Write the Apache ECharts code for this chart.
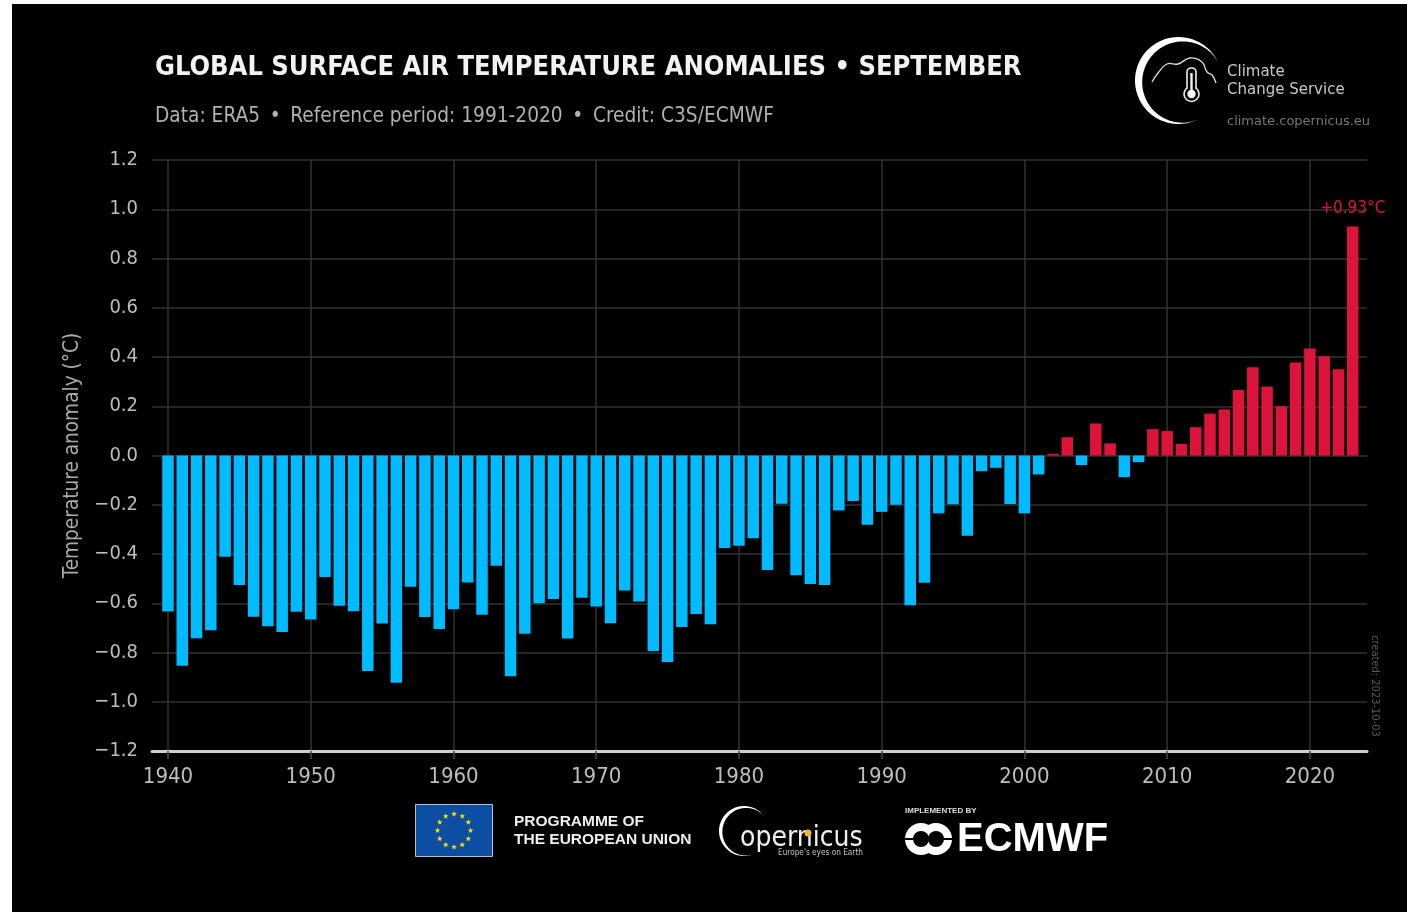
<!DOCTYPE html>
<html><head><meta charset="utf-8">
<style>html,body{margin:0;padding:0;background:#fff;width:1407px;height:912px;overflow:hidden}#c{width:1407px;height:912px}</style>
<script src="https://cdn.jsdelivr.net/npm/echarts@6/dist/echarts.min.js"></script>
</head><body><div id="c"></div>
<script>
const years = [];
for (let y = 1940; y <= 2023; y++) years.push(y);
const anomalies = [
 -0.633,-0.854,-0.742,-0.710,-0.411,-0.526,-0.655,-0.693,-0.717,-0.635,
 -0.666,-0.493,-0.610,-0.632,-0.875,-0.682,-0.923,-0.533,-0.656,-0.705,
 -0.624,-0.516,-0.647,-0.448,-0.896,-0.724,-0.600,-0.583,-0.743,-0.578,
 -0.613,-0.681,-0.548,-0.593,-0.794,-0.839,-0.696,-0.644,-0.685,-0.376,
 -0.367,-0.336,-0.465,-0.196,-0.486,-0.522,-0.526,-0.223,-0.185,-0.281,
 -0.229,-0.200,-0.608,-0.517,-0.235,-0.198,-0.326,-0.064,-0.050,-0.197,
 -0.235,-0.077, 0.007, 0.074,-0.039, 0.130, 0.049,-0.088,-0.027, 0.107,
  0.099, 0.047, 0.115, 0.170, 0.187, 0.266, 0.358, 0.280, 0.200, 0.378,
  0.435, 0.403, 0.350, 0.930];
const yearTicks = [1940,1950,1960,1970,1980,1990,2000,2010,2020];
const titleText = 'GLOBAL SURFACE AIR TEMPERATURE ANOMALIES • SEPTEMBER';
const subtitleText = 'Data: ERA5\u2009 • \u2009Reference period: 1991-2020\u2009 • \u2009Credit: C3S/ECMWF';
const yAxisName = 'Temperature anomaly (°C)';
const peakLabel = '+0.93°C';

const COND = '"DejaVu Sans Condensed","DejaVu Sans",sans-serif';
const DEJA = '"DejaVu Sans",sans-serif';
const LIB = '"Liberation Sans",sans-serif';
const BLUE = '#00bbff', RED = '#dc143c';

function star(cx, cy, r) {
  const pts = [];
  for (let i = 0; i < 10; i++) {
    const a = -Math.PI / 2 + i * Math.PI / 5, q = i % 2 ? r * 0.42 : r;
    pts.push([cx + q * Math.cos(a), cy + q * Math.sin(a)]);
  }
  return {type:'polygon', shape:{points:pts}, style:{fill:'#ffdd00'}};
}
const flagStars = [];
for (let i = 0; i < 12; i++) {
  const a = i * Math.PI / 6;
  flagStars.push(star(454 + 16.5 * Math.cos(a), 830.5 + 16.5 * Math.sin(a), 3));
}
// logo crescent: outer arc from tip a1 round the left to tip a2, inner edge swells to tmax
function crescent(cx, cy, r, a1, a2, tmax, fill) {
  const pts = [], n = 80;
  for (let i = 0; i <= n; i++) {
    const a = (a1 + (a2 - a1) * i / n) * Math.PI / 180;
    pts.push([cx + r * Math.cos(a), cy + r * Math.sin(a)]);
  }
  for (let i = n; i >= 0; i--) {
    const f = i / n, a = (a1 + (a2 - a1) * f) * Math.PI / 180, t = tmax * Math.pow(Math.sin(Math.PI * f), 1.3);
    pts.push([cx + (r - t) * Math.cos(a), cy + (r - t) * Math.sin(a)]);
  }
  return {type:'polygon', shape:{points:pts}, style:{fill}};
}
const txt = (x, y, text, font, size, fill, weight, extra) => ({
  type:'text', x, y, rotation:(extra&&extra.rotation)||0,
  style:{text, fill, fontFamily:font, fontSize:size, fontWeight:weight||'normal', verticalAlign:'middle', align:(extra&&extra.align)||'left'}
});
const circ = (cx, cy, r, fill, stroke, lw) => ({type:'circle', shape:{cx,cy,r}, style:{fill:fill||'none', stroke:stroke||'none', lineWidth:lw||0}});
const rectR = (x, y, width, height, fill) => ({type:'rect', shape:{x,y,width,height}, style:{fill}});

const decor = [
  // Climate Change Service logo
  crescent(1178.5, 80.5, 43.5, -24, -295, 7.5, '#fff'),
  {type:'polyline', shape:{smooth:0.45, points:[[1152,82],[1158,73],[1167,64],[1178,64],[1190,58],[1202,62],[1207,72],[1212,75],[1216,83]]},
   style:{fill:'none', stroke:'#ddd', lineWidth:1.3}},
  {type:'rect', shape:{x:1187, y:68, width:9, height:26, r:4}, style:{fill:'#000', stroke:'#eee', lineWidth:1.6}},
  circ(1191.5, 94, 7.5, '#000', '#eee', 1.6),
  rectR(1187.9, 84, 7.2, 6, '#000'),
  circ(1191.5, 94, 4.2, '#f4f4f4'),
  rectR(1190.3, 73, 2.4, 18, '#f4f4f4'),
  txt(1227, 72, 'Climate', DEJA, 15, '#c8c8c8'),
  txt(1227, 90, 'Change Service', DEJA, 15, '#c8c8c8'),
  txt(1227, 122, 'climate.copernicus.eu', DEJA, 13, '#777'),
  // created stamp
  txt(1375, 686, 'created: 2023-10-03', COND, 11, '#5a5a5a', 'normal', {rotation:-Math.PI/2, align:'center'}),
  // EU flag
  {type:'rect', shape:{x:415.5, y:804.5, width:77, height:52}, style:{fill:'#0b4ea2', stroke:'#b5c0cc', lineWidth:1}},
  ...flagStars,
  txt(514, 822, 'PROGRAMME OF', LIB, 15.5, '#eee', 'bold'),
  txt(514, 840, 'THE EUROPEAN UNION', LIB, 15.5, '#eee', 'bold'),
  // Copernicus
  crescent(744, 831, 25, -32, -288, 3.5, '#fff'),
  txt(740, 839, 'opernicus', COND, 28, '#eee'),
  circ(808, 833, 3.5, '#f5b335'),
  txt(778, 853, "Europe's eyes on Earth", COND, 8.2, '#c4c4c4'),
  // ECMWF
  txt(905, 811, 'IMPLEMENTED BY', LIB, 8, '#ddd', 'bold'),
  circ(921, 839, 16, '#fff'), circ(936, 839, 16, '#fff'),
  circ(921, 839, 8, '#000'), circ(936, 839, 8, '#000'),
  rectR(905, 838, 16, 2, '#000'), rectR(936, 838, 16, 2, '#000'),
  txt(957, 840, 'ECMWF', LIB, 40, '#fff', 'bold')
];

const chart = echarts.init(document.getElementById('c'), null, {renderer:'canvas'});
chart.setOption({
  animation:false,
  backgroundColor:'#fff',
  graphic:{elements:[
    {type:'rect', z:-10, shape:{x:12, y:4, width:1395, height:908}, style:{fill:'#000'}},
    {type:'group', z:-5, children:decor}
  ]},
  title:[
    {text:titleText, left:155, top:54, padding:0, textStyle:{color:'#f2f2f2', fontFamily:COND, fontWeight:'bold', fontSize:27}},
    {text:subtitleText, left:155, top:106, padding:0, textStyle:{color:'#b0b0b0', fontFamily:COND, fontWeight:'normal', fontSize:20.7}}
  ],
  grid:{left:152, right:40, top:160, bottom:161, containLabel:false},
  xAxis:{
    type:'value', min:1938.88, max:2024, position:'bottom',
    axisLine:{show:true, onZero:false, lineStyle:{color:'#cfcfcf', width:3}},
    axisTick:{show:true, length:8, customValues:yearTicks, lineStyle:{color:'#444', width:1.5}},
    axisLabel:{customValues:yearTicks, color:'#bdbdbd', fontFamily:COND, fontSize:22, margin:15, formatter:v=>String(v)},
    splitLine:{show:true, lineStyle:{color:'#333', width:1.5}}
  },
  yAxis:{
    type:'value', min:-1.2, max:1.2, interval:0.2,
    name:yAxisName, nameLocation:'middle', nameGap:69, nameRotate:90,
    nameTextStyle:{color:'#aaaaaa', fontFamily:COND, fontSize:20.6},
    axisLine:{show:false}, axisTick:{show:false},
    axisLabel:{color:'#bdbdbd', fontFamily:COND, fontSize:20, margin:14,
      formatter:v=>{const s=Math.abs(v).toFixed(1);return (v<-1e-9?'\u2212':'')+s;}},
    splitLine:{show:true, lineStyle:{color:'#333', width:1.5}}
  },
  series:[{
    type:'bar', barWidth:11.5, silent:true,
    data:years.map((y,i)=>{
      const v=anomalies[i];
      const d={value:[y,v], itemStyle:{color:v>=0?RED:BLUE}};
      if(y===2023) d.label={show:true, position:'top', distance:9, formatter:peakLabel, color:RED, fontFamily:COND, fontSize:17};
      return d;
    })
  }]
});
</script></body></html>
